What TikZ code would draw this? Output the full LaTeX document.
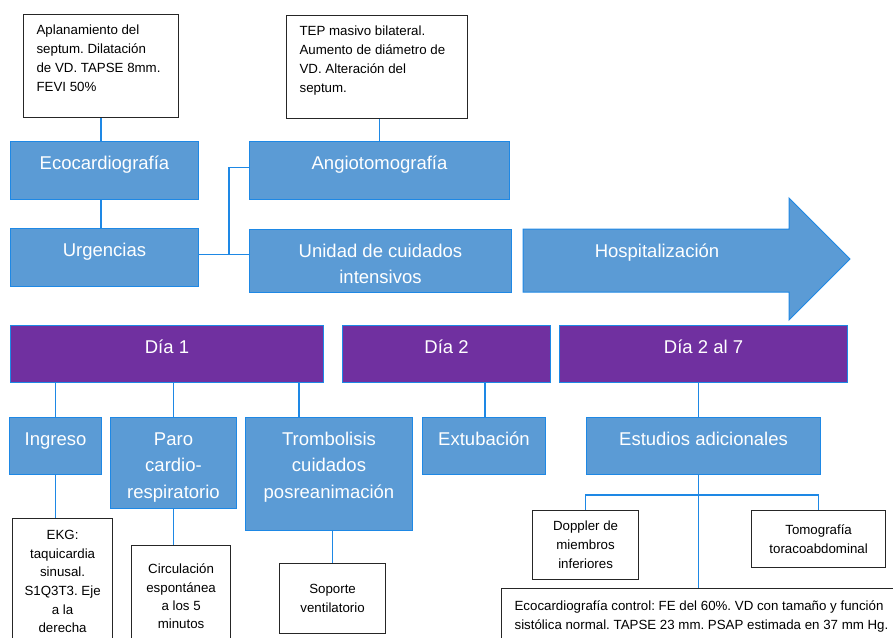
\documentclass[tikz,border=0pt]{standalone}
\usepackage{fontspec}
\setmainfont{Liberation Sans}
\usepackage{tikz}
\usetikzlibrary{positioning}
\usepackage{xcolor}
\definecolor{boxblue}{RGB}{91,155,213}
\definecolor{edgeblue}{RGB}{30,136,229}
\definecolor{dayviolet}{RGB}{112,48,160}
\frenchspacing
\newcommand{\stagetext}[3]{\parbox[c][#2][t]{#1}{\centering\rule{0pt}{27.5pt}#3}}
\newcommand{\leftnote}[3]{\parbox[c][#2][t]{#1}{\raggedright\leftskip=13pt\rule{0pt}{20pt}#3}}
\newcommand{\midnote}[4]{\parbox[c][#2][t]{#1}{\centering\rule{0pt}{#3}#4}}

\begin{document}
\begin{tikzpicture} [
  x = 1pt, y = -1pt,
  stage/.style = { draw = edgeblue, fill = boxblue, text = white, line width = 1pt, inner sep = 0, anchor = north west, font = \fontsize{18.5}{26.5}\selectfont },
  day/.style = { stage, fill = dayviolet },
  note/.style = { draw = black!85, fill = white, line width = 1.2pt, inner sep = 0, anchor = north west, font = \fontsize{13.3}{19}\selectfont },
  link/.style = { draw = edgeblue, line width = 1.5pt }
  ]
  \useasboundingbox (0,0) rectangle (893,637);

  \node[note] (ecoNote) at (23,14) {\leftnote{155pt}{103pt}{Aplanamiento del\\septum. Dilatación\\de VD. TAPSE 8mm.\\FEVI 50\%}};
  \node[note] (angioNote) at (286,15) {\leftnote{181pt}{103pt}{TEP masivo bilateral.\\Aumento de diámetro de\\VD. Alteración del\\septum.}};

  \node[stage] (eco) at (10,141) {\stagetext{188pt}{58pt}{Ecocardiografía}};
  \node[stage] (urg) at (10,228) {\stagetext{188pt}{58pt}{Urgencias}};
  \node[stage] (angio) at (249,141) {\stagetext{260pt}{58pt}{Angiotomografía}};
  \node[stage] (uci) at (249,229) {\stagetext{262pt}{63pt}{Unidad de cuidados\\intensivos}};

  \filldraw[fill = boxblue, draw = edgeblue, line width = 1pt] (523,229) -- (789,229) -- (789,198) -- (850,259) -- (789,320) -- (789,292) -- (523,292) -- cycle;
  \node[text = white, font = \fontsize{18.5}{26.5}\selectfont, anchor = base] (hosp) at (657,257) {Hospitalización};

  \node[day] (day1) at (10,325) {\stagetext{313pt}{57pt}{Día 1}};
  \node[day] (day2) at (342,325) {\stagetext{208pt}{57pt}{Día 2}};
  \node[day] (day27) at (559,325) {\stagetext{288pt}{57pt}{Día 2 al 7}};

  \node[stage] (ingreso) at (9,417) {\stagetext{92pt}{57pt}{Ingreso}};
  \node[stage] (paro) at (110,417) {\stagetext{126pt}{91pt}{Paro\\cardio-\\respiratorio}};
  \node[stage] (trombo) at (245,417) {\stagetext{167pt}{113pt}{Trombolisis\\cuidados\\posreanimación}};
  \node[stage] (extub) at (422,417) {\stagetext{123pt}{57pt}{Extubación}};
  \node[stage] (estudios) at (586,417) {\stagetext{234pt}{57pt}{Estudios adicionales}};

  \node[note, font = \fontsize{13.3}{18.6}\selectfont] (ekg) at (12,518) {\midnote{100pt}{130pt}{21pt}{EKG:\\taquicardia\\sinusal.\\S1Q3T3. Eje\\a la\\derecha}};
  \node[note, font = \fontsize{13.3}{18.4}\selectfont] (circ) at (131,545) {\midnote{99pt}{100pt}{28pt}{Circulación\\espontánea\\a los 5\\minutos}};
  \node[note, minimum width = 106pt, minimum height = 70pt, align = center] (soporte) at (279,563) {Soporte\\ventilatorio};
  \node[note, minimum width = 106pt, minimum height = 69pt, align = center] (doppler) at (532,510) {Doppler de\\miembros\\inferiores};
  \node[note, minimum width = 134pt, minimum height = 57pt, align = center] (tomo) at (751,510) {Tomografía\\toracoabdominal};
  \node[note] (ecoCtl) at (501,588) {\parbox[c][60pt][t]{420pt}{\raggedright\leftskip=13pt\rule{0pt}{22pt}Ecocardiografía control: FE del 60\%. VD con tamaño y función\\sistólica normal. TAPSE 23 mm. PSAP estimada en 37 mm Hg.}};

  \draw[link] (ecoNote.south) -- (ecoNote.south |- eco.north);
  \draw[link] (ecoNote.south |- eco.south) -- (ecoNote.south |- urg.north);
  \draw[link] (angio.north) -- (angio.north |- angioNote.south);
  \draw[link] ([yshift = 3pt]urg.east) -- ++(30,0) coordinate (fork) |- ([yshift = 3pt]angio.west);
  \draw[link] (fork) -- (fork -| uci.west);

  \draw[link] (ingreso.north) -- (ingreso.north |- day1.south);
  \draw[link] (paro.north) -- (paro.north |- day1.south);
  \draw[link] ([xshift = -30pt]trombo.north) -- ([xshift = -30pt]trombo.north |- day1.south);
  \draw[link] (extub.north -| 485,0) -- (day2.south -| 485,0);
  \draw[link] ([xshift = -5pt]estudios.north) -- ([xshift = -5pt]estudios.north |- day27.south);

  \draw[link] (ingreso.south) -- (ingreso.south |- ekg.north);
  \draw[link] (paro.south) -- (paro.south |- circ.north);
  \draw[link] (soporte.north) -- (soporte.north |- trombo.south);
  \draw[link] ([xshift = -5pt]estudios.south) -- ([xshift = -5pt]estudios.south |- ecoCtl.north);
  \draw[link] (doppler.north) -- ++(0,-15) -| (tomo.north);
\end{tikzpicture}
\end{document}
